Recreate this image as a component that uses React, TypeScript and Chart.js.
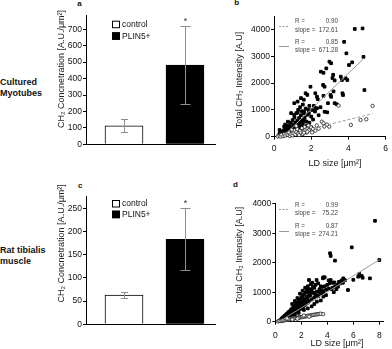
import React, { useEffect, useRef } from "react";
import { Chart, registerables } from "chart.js";

Chart.register(...registerables);

const FONT = "'Liberation Sans', Arial, Helvetica, sans-serif";

// ---------------- data ----------------
const barLabels = ["control", "PLIN5+"];
const barX = [1, 2];
const myoMeans = [113, 482];
const myoErrors = [40, 236];
const musMeans = [63, 183];
const musErrors = [7, 67];
const myoBarTicks = [0, 100, 200, 300, 400, 500, 600, 700];
const musBarTicks = [0, 50, 100, 150, 200, 250];
const myoScYTicks = [0, 1000, 2000, 3000, 4000];
const myoScXTicks = [0, 2, 4, 6];
const musScYTicks = [0, 1000, 2000, 3000, 4000];
const musScXTicks = [0, 2, 4, 6, 8];

// panel b: cultured myotubes, LD size [µm²] vs total CH2 intensity
const myoPlin: number[][] = [
  [0.25, 40], [0.3, 120], [0.35, 70], [0.4, 180], [0.42, 20], [0.45, 110], [0.5, 230], [0.5, 60],
  [0.55, 160], [0.6, 290], [0.6, 100], [0.65, 210], [0.7, 140], [0.7, 350], [0.75, 260], [0.8, 190],
  [0.8, 420], [0.85, 310], [0.9, 230], [0.9, 520], [0.95, 380], [1.0, 280], [1.0, 620], [1.05, 450],
  [1.1, 330], [1.1, 720], [1.15, 520], [1.2, 400], [1.2, 880], [1.25, 600], [1.3, 470], [1.3, 1000],
  [1.35, 700], [1.4, 540], [1.4, 1100], [1.45, 800], [1.45, 1440], [1.5, 620], [1.5, 950], [1.55, 1200],
  [1.6, 880], [1.6, 1380], [1.65, 720], [1.7, 1050], [1.7, 1620], [1.75, 560], [1.79, 1560], [1.8, 820],
  [1.85, 1000], [1.87, 870], [1.9, 1150], [1.96, 1865], [2.0, 750], [2.05, 1000], [2.1, 640], [2.14, 1150],
  [2.2, 940], [2.22, 1620], [2.25, 1060], [2.31, 1490], [2.35, 1400], [2.4, 800], [2.5, 1100], [2.52, 2425],
  [2.66, 2385], [2.66, 1525], [2.64, 1930], [2.72, 1865], [2.81, 2550], [2.72, 930], [2.86, 910], [2.9, 1250],
  [2.98, 2800], [3.07, 2740], [3.04, 1555], [3.07, 1490], [3.2, 1690], [3.37, 1210], [3.26, 1250], [3.59, 2240],
  [3.65, 2115], [3.85, 2180], [3.94, 2115], [3.68, 1620], [3.71, 1555], [3.77, 3540], [3.89, 3110], [4.03, 2675],
  [4.2, 2775], [4.34, 4020], [4.76, 4040], [4.81, 2980], [4.86, 1740], [1.09, 1250], [1.27, 1310], [0.92, 880],
  [1.09, 810], [1.27, 900], [1.61, 940], [2.31, 1060], [0.6, 450], [0.75, 560], [1.0, 150], [1.2, 230],
  [1.4, 300], [0.3, 250], [0.55, 380], [3.18, 2310], [3.26, 2100], [3.14, 2190],
  [0.35, 30], [0.45, 140], [0.65, 60], [0.7, 250], [0.85, 150], [0.95, 90], [1.05, 200], [1.15, 300],
  [1.25, 150], [1.35, 420], [1.5, 380], [1.55, 500], [1.65, 600], [1.75, 400], [1.9, 520], [2.0, 350]
];
const myoCtrl: number[][] = [
  [0.2, 10], [0.3, 40], [0.35, 0], [0.4, 70], [0.5, 20], [0.55, 100], [0.6, 45], [0.7, 120],
  [0.75, 60], [0.8, 160], [0.85, 30], [0.9, 90], [1.0, 180], [1.0, 50], [1.05, 130], [1.1, 230],
  [1.15, 80], [1.2, 170], [1.25, 280], [1.3, 120], [1.35, 60], [1.4, 220], [1.45, 150], [1.5, 320],
  [1.55, 100], [1.6, 200], [1.65, 360], [1.7, 260], [1.75, 150], [1.8, 300], [1.85, 420], [1.88, 250],
  [1.79, 187], [1.61, 150], [2.0, 350], [2.05, 160], [2.1, 290], [2.22, 225], [2.3, 420], [2.4, 300],
  [2.57, 560], [2.66, 500], [2.7, 380], [2.97, 375], [3.47, 1160], [4.13, 440], [4.65, 625], [4.96, 650],
  [5.3, 1150], [2.85, 450], [1.2, 400], [0.95, 260]
];
const myoCtrlFit: number[][] = [[0.3, 0], [5.3, 860]];
const myoPlinFit: number[][] = [[0.5, 20], [4.8, 2900]];
const myoStats = [["0.90", "172.61"], ["0.85", "671.28"]];

// panel d: rat tibialis muscle
const musPlin: number[][] = [
  [0.3, 20], [0.4, 60], [0.5, 40], [0.5, 110], [0.6, 80], [0.6, 150], [0.7, 60], [0.7, 190],
  [0.75, 120], [0.8, 90], [0.8, 230], [0.85, 160], [0.9, 120], [0.9, 270], [0.95, 200], [1.0, 150],
  [1.0, 320], [1.05, 240], [1.1, 180], [1.1, 350], [1.15, 280], [1.2, 220], [1.2, 400], [1.25, 310],
  [1.3, 250], [1.3, 450], [1.35, 340], [1.4, 280], [1.4, 500], [1.45, 380], [1.5, 300], [1.5, 540],
  [1.55, 420], [1.6, 340], [1.6, 600], [1.65, 460], [1.7, 370], [1.7, 640], [1.75, 500], [1.8, 400],
  [1.8, 700], [1.85, 540], [1.9, 430], [1.9, 760], [1.95, 590], [2.0, 460], [2.0, 820], [2.05, 640],
  [2.1, 500], [2.1, 870], [2.15, 680], [2.2, 540], [2.2, 920], [2.25, 720], [2.3, 580], [2.3, 980],
  [2.35, 760], [2.4, 620], [2.4, 1040], [2.45, 800], [2.5, 650], [2.5, 1100], [2.55, 850], [2.6, 700],
  [2.59, 1413], [2.7, 900], [2.73, 1278], [2.8, 760], [2.85, 1322], [2.9, 980], [3.0, 820], [3.0, 1150],
  [3.1, 900], [3.2, 1020], [3.18, 1413], [3.3, 860], [3.4, 1100], [3.5, 950], [3.6, 1180], [3.7, 1000],
  [3.69, 1505], [3.8, 1200], [3.9, 1080], [4.0, 1250], [4.1, 1120], [4.2, 1300], [4.21, 2320], [4.26, 2230],
  [4.26, 1413], [4.4, 1150], [4.46, 1320], [4.55, 1330], [4.6, 1200], [4.59, 2070], [4.8, 1250], [4.82, 1186],
  [4.9, 1350], [5.0, 1300], [5.1, 1400], [5.2, 1320], [5.23, 1470], [5.36, 1410], [5.59, 1075], [5.88, 2520],
  [6.0, 1420], [6.38, 1525], [6.46, 1620], [6.65, 1550], [6.72, 1490], [7.28, 1470], [7.67, 3420], [8.0, 2090],
  [1.0, 260], [1.2, 330], [1.4, 420], [1.6, 480], [1.8, 560], [2.0, 650], [2.2, 760], [2.4, 840],
  [2.6, 950], [2.8, 1050], [3.0, 980], [3.2, 880], [3.4, 1000], [3.6, 1050], [2.6, 1000], [2.7, 1100],
  [2.9, 1180], [3.1, 1250], [3.3, 1300], [3.5, 1200], [1.3, 600], [1.5, 700], [1.7, 800], [1.9, 950],
  [2.1, 1050], [2.3, 1150], [2.5, 1200], [4.1, 1400], [4.3, 1100], [4.5, 1000], [4.7, 1100], [3.9, 900],
  [3.7, 850], [2.5, 450], [2.8, 520], [3.0, 600], [3.2, 680], [3.5, 720], [2.2, 400], [1.8, 300],
  [1.5, 230], [3.8, 1505], [3.67, 1471]
];
const musCtrl: number[][] = [
  [0.2, 10], [0.3, 25], [0.4, 20], [0.5, 40], [0.55, 30], [0.6, 50], [0.7, 45], [0.75, 60],
  [0.8, 55], [0.9, 70], [0.95, 65], [1.0, 80], [1.05, 75], [1.1, 90], [1.2, 95], [1.25, 100],
  [1.3, 105], [1.4, 110], [1.45, 115], [1.5, 120], [1.6, 125], [1.65, 130], [1.7, 135], [1.8, 140],
  [1.85, 150], [1.9, 145], [2.0, 160], [2.05, 155], [2.1, 170], [2.2, 175], [2.3, 180], [2.35, 190],
  [2.4, 185], [2.5, 200], [2.6, 205], [2.7, 215], [2.8, 220], [2.9, 230], [3.0, 235], [3.1, 245],
  [3.2, 250], [3.3, 255], [3.4, 265], [3.5, 270], [3.68, 257], [0.9, 110], [1.3, 70], [1.7, 100],
  [2.2, 210], [2.6, 170]
];
const musCtrlFit: number[][] = [[0.15, 10], [3.7, 290]];
const musPlinFit: number[][] = [[0.35, 20], [8.05, 2110]];
const musStats = [["0.99", "75.22"], ["0.87", "274.21"]];

// ---------------- plugins ----------------
type Txt = { text: string; x: number; y: number; size: number; rot?: number; color?: string };

const textPlugin = (items: Txt[]) => ({
  id: "texts",
  afterDraw(chart: any) {
    const ctx = chart.ctx;
    items.forEach((t) => {
      ctx.save();
      ctx.translate(t.x, t.y);
      if (t.rot) ctx.rotate(t.rot);
      ctx.font = `${t.size}px ${FONT}`;
      ctx.fillStyle = t.color || "#222";
      ctx.textAlign = "center";
      ctx.textBaseline = "middle";
      ctx.fillText(t.text, 0, 0);
      ctx.restore();
    });
  },
});

const barExtrasPlugin = (means: number[], errs: number[], leg: { x: number; y1: number; y2: number }) => ({
  id: "barExtras",
  afterDatasetsDraw(chart: any) {
    const { ctx, scales } = chart;
    const xs = scales.x;
    const ys = scales.y;
    ctx.save();
    ctx.strokeStyle = "#8f8f8f";
    ctx.lineWidth = 1;
    barX.forEach((v, i) => {
      const px = Math.round(xs.getPixelForValue(v)) + 0.5;
      const top = Math.round(ys.getPixelForValue(means[i] + errs[i])) + 0.5;
      const bot = Math.round(ys.getPixelForValue(means[i] - errs[i])) + 0.5;
      const cap = i === 0 ? 3.5 : 5;
      ctx.beginPath();
      ctx.moveTo(px, top); ctx.lineTo(px, bot);
      ctx.moveTo(px - cap, top); ctx.lineTo(px + cap, top);
      ctx.moveTo(px - cap, bot); ctx.lineTo(px + cap, bot);
      ctx.stroke();
      if (i === 1) {
        ctx.fillStyle = "#333";
        ctx.font = `9px ${FONT}`;
        ctx.textAlign = "center";
        ctx.textBaseline = "middle";
        ctx.fillText("*", px, top - 5);
      }
    });
    const ys2 = [leg.y1, leg.y2];
    ys2.forEach((y, i) => {
      ctx.fillStyle = i === 0 ? "#fff" : "#000";
      ctx.fillRect(leg.x, y, 8, 7.5);
      ctx.strokeStyle = "#000";
      ctx.strokeRect(leg.x + 0.5, y + 0.5, 7, 6.5);
      ctx.fillStyle = "#111";
      ctx.font = `8.5px ${FONT}`;
      ctx.textAlign = "left";
      ctx.textBaseline = "middle";
      ctx.fillText(barLabels[i], leg.x + 10, y + 4);
    });
    ctx.restore();
  },
});

const statsPlugin = (stats: string[][], lx: number, rows: number[]) => ({
  id: "stats",
  afterDraw(chart: any) {
    const ctx = chart.ctx;
    ctx.save();
    ctx.font = `6.3px ${FONT}`;
    ctx.fillStyle = "#444";
    ctx.textBaseline = "middle";
    stats.forEach((s, i) => {
      const yR = rows[i * 2];
      const yS = rows[i * 2 + 1];
      ctx.textAlign = "left";
      ctx.fillText("R =", lx + 16, yR);
      ctx.fillText("slope =", lx + 16, yS);
      ctx.textAlign = "right";
      ctx.fillText(s[0], lx + 59, yR);
      ctx.fillText(s[1], lx + 59, yS);
      const ly = Math.round((yR + yS) / 2) + 0.5;
      ctx.strokeStyle = "#9a9a9a";
      ctx.lineWidth = 1;
      ctx.setLineDash(i === 0 ? [2, 1.5] : []);
      ctx.beginPath();
      ctx.moveTo(lx, ly);
      ctx.lineTo(lx + 10, ly);
      ctx.stroke();
      ctx.setLineDash([]);
    });
    ctx.restore();
  },
});

// ---------------- configs ----------------
const TICK_FONT = { family: FONT, size: 8.5 };
const axisGrid = { display: true, drawOnChartArea: false, drawTicks: true, tickLength: 3, color: "#000" };
const axisBorder = { display: true, color: "#000", width: 1 };
const fixTicks = (vals: number[]) => (s: any) => { s.ticks = vals.map((value) => ({ value })); };
const plainLabel = (v: any) => String(v);

type BarGeom = { top: number; right: number; xH: number; yW: number; xMin: number; xMax: number };

function barConfig(means: number[], errs: number[], yMax: number, yTicks: number[], g: BarGeom, texts: Txt[], leg: any): any {
  return {
    type: "bar",
    data: {
      datasets: [
        {
          data: barX.map((x, i) => ({ x, y: means[i] })),
          backgroundColor: ["#ffffff", "#000000"],
          borderColor: "#000",
          borderWidth: 1,
          barThickness: 38,
        },
      ],
    },
    options: {
      animation: false,
      responsive: false,
      devicePixelRatio: 1,
      layout: { padding: { left: 0, top: g.top, right: g.right, bottom: 0 } },
      plugins: { legend: { display: false }, tooltip: { enabled: false } },
      scales: {
        x: {
          type: "linear",
          offset: false,
          min: g.xMin,
          max: g.xMax,
          ticks: { display: false },
          grid: { display: false },
          border: axisBorder,
          afterFit: (s: any) => { s.height = g.xH; },
        },
        y: {
          min: 0,
          max: yMax,
          afterBuildTicks: fixTicks(yTicks),
          ticks: { font: TICK_FONT, color: "#111", padding: 1, callback: plainLabel },
          grid: axisGrid,
          border: axisBorder,
          afterFit: (s: any) => { s.width = g.yW; },
        },
      },
    },
    plugins: [barExtrasPlugin(means, errs, leg), textPlugin(texts)],
  };
}

type ScGeom = { top: number; right: number; xH: number; yW: number; xMax: number; yMax: number; xPad: number };

function scatterConfig(plin: number[][], ctrl: number[][], plinFit: number[][], ctrlFit: number[][], xTicks: number[], yTicks: number[], g: ScGeom, texts: Txt[], stats: string[][], rows: number[]): any {
  const pts = (a: number[][]) => a.map(([x, y]) => ({ x, y }));
  return {
    type: "scatter",
    data: {
      datasets: [
        { data: pts(ctrlFit), showLine: true, borderColor: "#9a9a9a", borderWidth: 1, borderDash: [3, 2], pointRadius: 0 },
        { data: pts(plinFit), showLine: true, borderColor: "#9a9a9a", borderWidth: 1, pointRadius: 0 },
        { data: pts(ctrl), pointStyle: "circle", pointRadius: 1.7, backgroundColor: "#fff", borderColor: "#222", borderWidth: 0.8 },
        { data: pts(plin), pointStyle: "rect", pointRadius: 1.9, backgroundColor: "#000", borderColor: "#000", borderWidth: 1 },
      ],
    },
    options: {
      animation: false,
      responsive: false,
      devicePixelRatio: 1,
      clip: false,
      layout: { padding: { left: 0, top: g.top, right: g.right, bottom: 0 } },
      plugins: { legend: { display: false }, tooltip: { enabled: false } },
      scales: {
        x: {
          type: "linear",
          min: 0,
          max: g.xMax,
          afterBuildTicks: fixTicks(xTicks),
          ticks: { font: TICK_FONT, color: "#111", padding: g.xPad, maxRotation: 0, callback: plainLabel },
          grid: axisGrid,
          border: axisBorder,
          afterFit: (s: any) => { s.height = g.xH; },
        },
        y: {
          type: "linear",
          min: 0,
          max: g.yMax,
          afterBuildTicks: fixTicks(yTicks),
          ticks: { font: TICK_FONT, color: "#111", padding: 1, callback: plainLabel },
          grid: axisGrid,
          border: axisBorder,
          afterFit: (s: any) => { s.width = g.yW; },
        },
      },
    },
    plugins: [textPlugin(texts), statsPlugin(stats, 57, rows)],
  };
}

const ROT = -Math.PI / 2;
const Y_BAR = "CH\u2082 Concnetration [A.U./\u03bcm\u00b2]";
const Y_SC = "Total CH\u2082 Intensity [A.U]";
const X_SC = "LD size [\u03bcm\u00b2]";

// ---------------- components ----------------
function ChartCanvas(props: { make: () => any; left: number; top: number; width: number; height: number }) {
  const ref = useRef<HTMLCanvasElement>(null);
  useEffect(() => {
    const chart = new Chart(ref.current as HTMLCanvasElement, props.make());
    return () => chart.destroy();
  }, []);
  return (
    <canvas
      ref={ref}
      width={props.width}
      height={props.height}
      style={{ position: "absolute", left: props.left, top: props.top, width: props.width, height: props.height }}
    />
  );
}

const labelStyle = (left: number, top: number): React.CSSProperties => ({
  position: "absolute",
  left,
  top,
  fontFamily: FONT,
  fontWeight: "bold",
  fontSize: 9,
  lineHeight: "11px",
  color: "#111",
  whiteSpace: "nowrap",
});

const letterStyle = (cx: number, cy: number): React.CSSProperties => ({
  position: "absolute",
  left: cx - 4,
  top: cy - 5,
  width: 8,
  textAlign: "center",
  fontFamily: FONT,
  fontWeight: "bold",
  fontSize: 8,
  lineHeight: "10px",
  color: "#111",
});

export default function App() {
  return (
    <div style={{ position: "absolute", left: 0, top: 0, width: 392, height: 349, background: "#fff", overflow: "hidden" }}>
      <div style={labelStyle(0, 76.5)}>Cultured<br />Myotubes</div>
      <div style={labelStyle(0, 245)}>Rat tibialis<br />muscle</div>
      <div style={letterStyle(79.5, 3.7)}>a</div>
      <div style={letterStyle(236.7, 2.5)}>b</div>
      <div style={letterStyle(80.3, 185.8)}>c</div>
      <div style={letterStyle(235.5, 185.3)}>d</div>

      <ChartCanvas
        left={50} top={0} width={170} height={170}
        make={() => barConfig(myoMeans, myoErrors, 787, myoBarTicks,
          { top: 15, right: 5, xH: 25.7, yW: 36, xMin: 0.377, xMax: 2.492 },
          [{ text: Y_BAR, x: 12, y: 69, size: 9, rot: ROT }],
          { x: 62, y1: 20.7, y2: 32.3 })}
      />
      <ChartCanvas
        left={50} top={175} width={170} height={174}
        make={() => barConfig(musMeans, musErrors, 275, musBarTicks,
          { top: 21.7, right: 5, xH: 24.7, yW: 36, xMin: 0.377, xMax: 2.492 },
          [{ text: Y_BAR, x: 11.7, y: 68.3, size: 9, rot: ROT }],
          { x: 62, y1: 25, y2: 35.7 })}
      />
      <ChartCanvas
        left={222} top={0} width={170} height={175}
        make={() => scatterConfig(myoPlin, myoCtrl, myoPlinFit, myoCtrlFit, myoScXTicks, myoScYTicks,
          { top: 16.1, right: 3, xH: 38.3, yW: 52, xMax: 6, yMax: 4500, xPad: 4 },
          [
            { text: Y_SC, x: 18, y: 80, size: 9, rot: ROT },
            { text: X_SC, x: 113, y: 163.3, size: 9 },
          ],
          myoStats, [21.5, 30, 42, 50])}
      />
      <ChartCanvas
        left={222} top={175} width={170} height={174}
        make={() => scatterConfig(musPlin, musCtrl, musPlinFit, musCtrlFit, musScXTicks, musScYTicks,
          { top: 28.7, right: 8.8, xH: 27.3, yW: 53.3, xMax: 8.3, yMax: 4000, xPad: 6 },
          [
            { text: Y_SC, x: 18, y: 80, size: 9, rot: ROT },
            { text: X_SC, x: 115, y: 168.3, size: 9 },
          ],
          musStats, [30, 38.5, 51.5, 59.5])}
      />
    </div>
  );
}
